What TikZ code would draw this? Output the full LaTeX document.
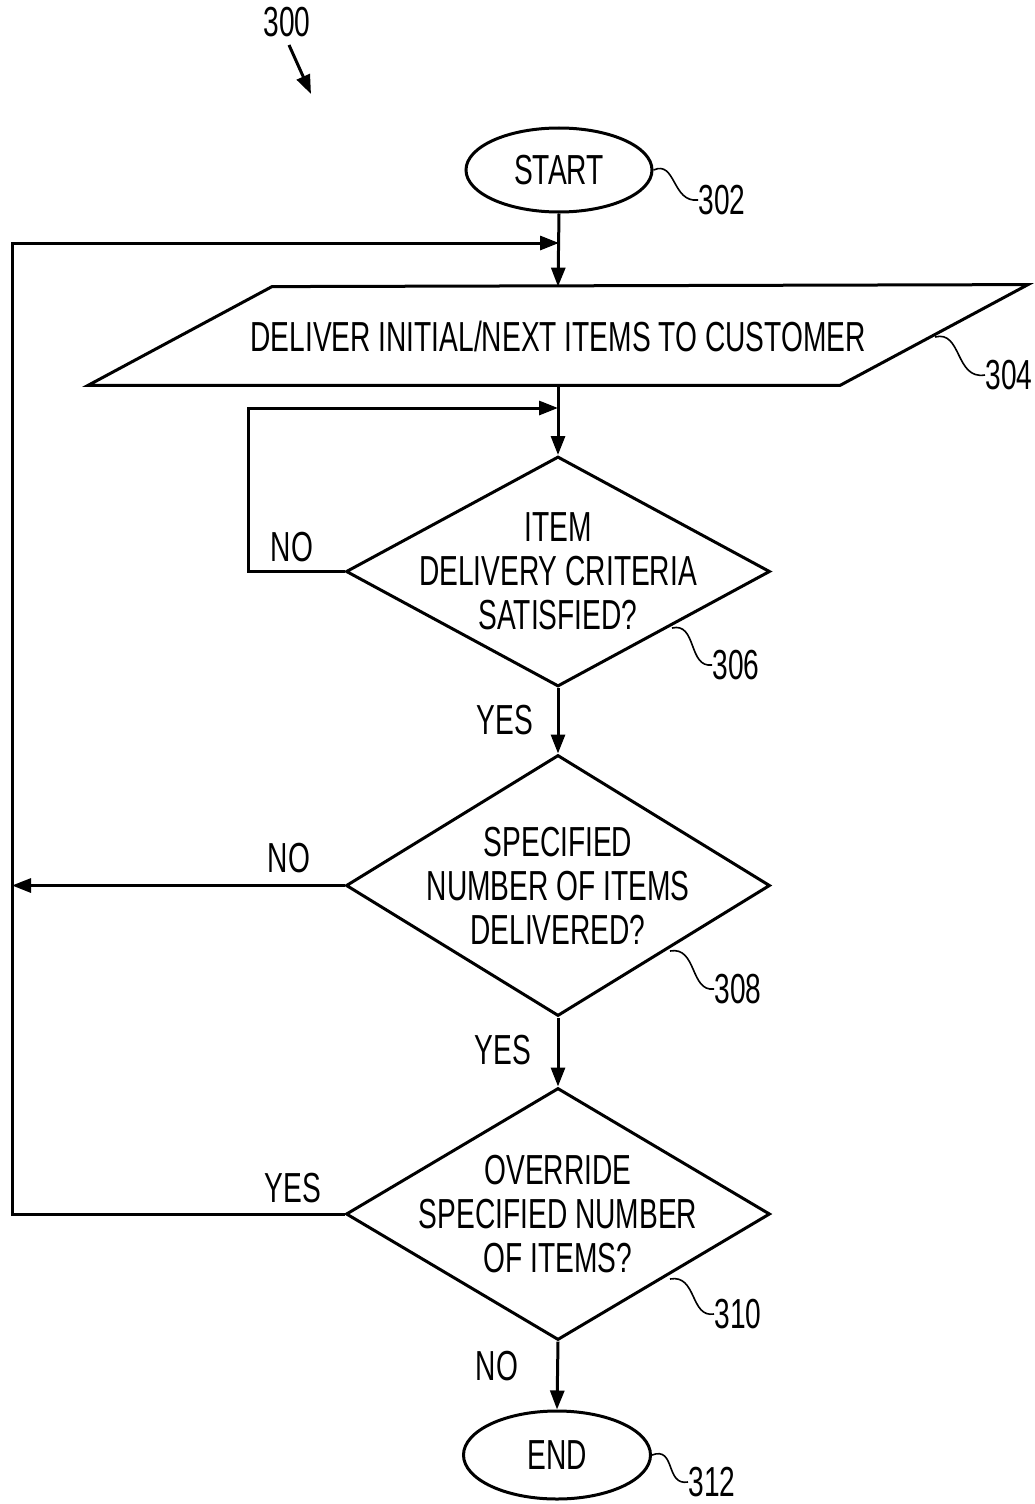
\documentclass[tikz,border=0pt]{standalone}
\usepackage{fontspec}
\setmainfont{Liberation Sans}[FakeStretch=0.67]
\usetikzlibrary{shapes.geometric,arrows.meta,calc}
\begin{document}
\begin{tikzpicture}[x=0.5pt,y=-0.5pt,
  every node/.style={font=\fontsize{21}{22}\selectfont},
  ln/.style={line width=1.5pt},
  arr/.style={ln,-{Triangle[length=9.5pt,width=7pt]}},
  lead/.style={line width=0.8pt},
  term/.style={draw,ln,ellipse,inner sep=0pt},
  dec/.style={draw,ln,diamond,inner sep=0pt,minimum width=212pt},
  txt/.style={inner sep=0pt,align=center}]
\useasboundingbox (0,0) rectangle (1034,1504);
% figure label
\node[txt] (fig) at (287,22) {300};
\coordinate (figA) at (289,45);
\coordinate (figB) at (311,94);
\draw[arr] (figA) -- (figB);
% start
\node[term,minimum width=93pt,minimum height=42pt] (start) at (559,170) {START};
% parallelogram
\node[inner sep=0pt,minimum width=200pt,minimum height=49pt] (deliver) at (558,336) {DELIVER INITIAL/NEXT ITEMS TO CUSTOMER};
\draw[ln,line join=miter] ($(deliver.north)+(-143pt,0)$) -- ($(deliver.north)+(235pt,1pt)$) -- ($(deliver.south)+(141pt,0)$) -- ($(deliver.south)+(-235pt,0)$) -- cycle;
% decisions
\node[dec,minimum height=115pt] (d1) at (558,571.5) {};
\node[txt] (t1) at (d1) {ITEM\\DELIVERY CRITERIA\\SATISFIED?};
\node[dec,minimum height=130.5pt] (d2) at (558,885.5) {};
\node[txt] (t2) at (d2) {SPECIFIED\\NUMBER OF ITEMS\\DELIVERED?};
\node[dec,minimum height=126pt] (d3) at (558,1214) {};
\node[txt] (t3) at (d3) {OVERRIDE\\SPECIFIED NUMBER\\OF ITEMS?};
% end
\node[term,minimum width=93.5pt,minimum height=44pt] (end) at (557,1455) {END};
% coordinates for loops
\coordinate (outer) at (12,243);
\coordinate (inner) at (248,408);
% connectors
\draw[arr] (start.south) -- (deliver.north);
\draw[arr] (d3.west) -- (outer |- d3.west) -- (outer) -- (start.south |- outer);
\draw[arr] (deliver.south) -- (d1.north);
\draw[arr] (d1.west) -- (inner |- d1.west) -- (inner) -- (d1.north |- inner);
\draw[arr] (d1.south) -- (d2.north);
\draw[arr] (d2.west) -- (outer |- d2.west);
\draw[arr] (d2.south) -- (d3.north);
\draw[arr] (d3.south) -- (end.north);
% branch labels
\node[txt] (n1) at (292,547) {NO};
\node[txt] (y1) at (505,720) {YES};
\node[txt] (n2) at (289,858) {NO};
\node[txt] (y2) at (503,1050) {YES};
\node[txt] (y3) at (293,1188) {YES};
\node[txt] (n3) at (497,1366) {NO};
% reference numerals
\node[txt,anchor=west] (r302) at (698,200) {302};
\node[txt,anchor=west] (r304) at (985,375) {304};
\node[txt,anchor=west] (r306) at (712,665) {306};
\node[txt,anchor=west] (r308) at (714,989) {308};
\node[txt,anchor=west] (r310) at (714,1314) {310};
\node[txt,anchor=west] (r312) at (688,1482) {312};
% leaders
\draw[lead] (start.east) .. controls (676,160) and (672,203) .. (r302.west);
\draw[lead] (935,337) .. controls (962,330) and (955,380) .. (r304.west);
\draw[lead] (672,628) .. controls (697,622) and (688,668) .. (r306.west);
\draw[lead] (670,951) .. controls (697,946) and (690,992) .. (r308.west);
\draw[lead] (670,1279) .. controls (697,1274) and (690,1318) .. (r310.west);
\draw[lead] (end.east) .. controls (676,1446) and (665,1486) .. (r312.west);
\end{tikzpicture}
\end{document}
